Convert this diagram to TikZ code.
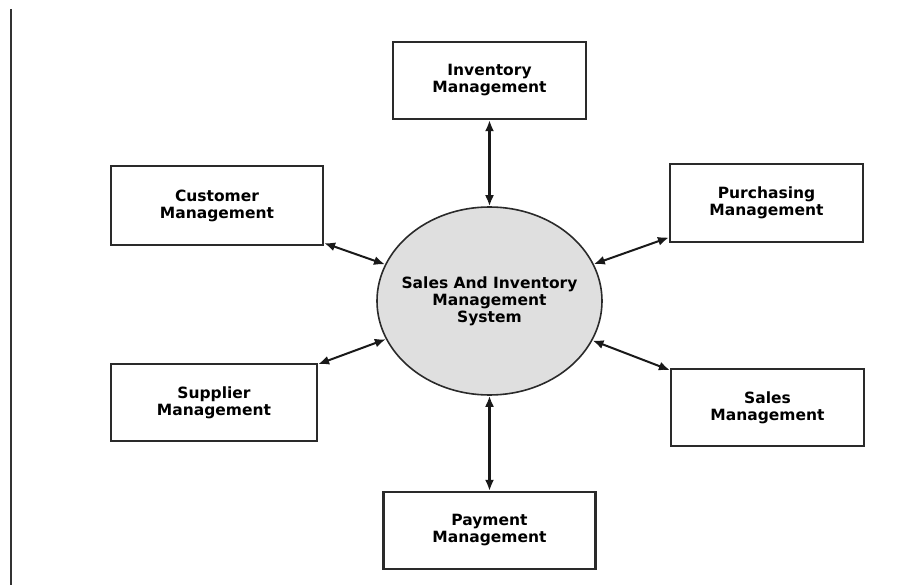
\documentclass[tikz,border=0pt]{standalone}
\usepackage{fontspec}
\setmainfont{DejaVu Sans}
\usepackage{xcolor}
\usetikzlibrary{shapes.geometric,arrows.meta}
\definecolor{sysgray}{HTML}{DFDFDF}
\definecolor{edgegray}{HTML}{2A2A2A}

\begin{document}
\begin{tikzpicture}[x=1pt, y=-1pt, font=\fontsize{15.5}{17}\selectfont\bfseries,
  module/.style={draw=edgegray, line width=2.2pt, align=center, inner sep=0pt},
  process/.style={ellipse, draw=edgegray, line width=1.6pt, fill=sysgray, align=center, inner xsep=-14pt, inner ysep=0pt, minimum width=225pt, minimum height=188pt},
  arr/.style={{Latex[length=11pt,width=9pt]}-{Latex[length=11pt,width=9pt]}, line width=2pt, black!90},
  varr/.style={arr, line width=3pt}]
\useasboundingbox (0,0) rectangle (919,585);
\draw[line width=2.2pt, black!80] (11,9) -- (11,585);

\node[process] (sys) at (489.5,301) {Sales And Inventory\\Management\\System};

\node[module, minimum width=193pt, minimum height=77pt] (inv) at (489.5,80.5) {Inventory\\Management};
\node[module, minimum width=212pt, minimum height=79pt] (cust) at (217,205.5) {Customer\\Management};
\node[module, minimum width=193pt, minimum height=78pt] (purch) at (766.5,203) {Purchasing\\Management};
\node[module, minimum width=206pt, minimum height=77pt] (supp) at (214,402.5) {Supplier\\Management};
\node[module, minimum width=193pt, minimum height=77pt] (sales) at (767.5,407.5) {Sales\\Management};
\node[module, minimum width=212pt, minimum height=77pt] (pay) at (489.5,530.5) {Payment\\Management};

\draw[varr] (inv) -- (sys);
\draw[varr] (pay) -- (sys);
\draw[arr] (cust) -- (sys);
\draw[arr] (purch) -- (sys);
\draw[arr] (supp) -- (sys);
\draw[arr] (sales) -- (sys);
\end{tikzpicture}
\end{document}
